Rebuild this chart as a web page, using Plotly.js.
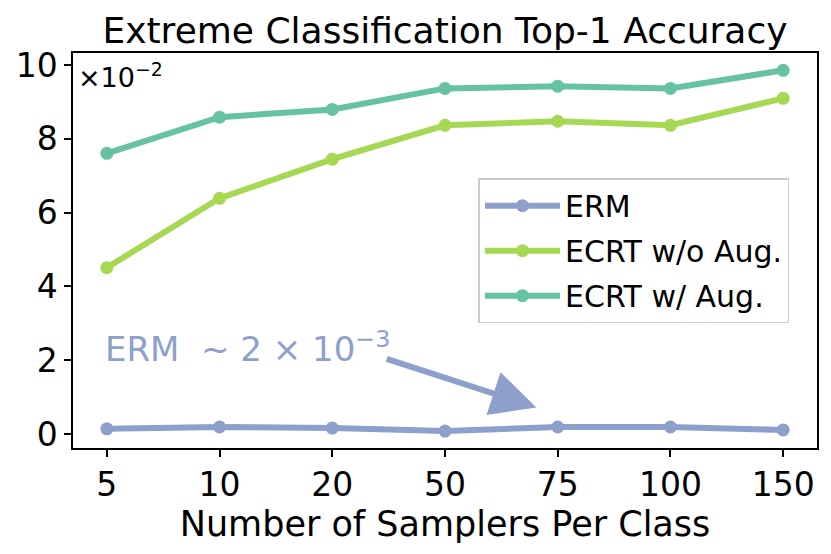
<!DOCTYPE html>
<html><head><meta charset="utf-8">
<script src="https://cdn.plot.ly/plotly-3.0.1.min.js"></script>
<style>body{margin:0;background:#fff}#c{width:831px;height:554px}</style>
</head><body><div id="c"></div>
<script>
const categories = ["5","10","20","50","75","100","150"];
const ermValues = [0.14, 0.19, 0.16, 0.08, 0.19, 0.19, 0.11];
const ecrtNoAugValues = [4.51, 6.39, 7.45, 8.37, 8.48, 8.37, 9.10];
const ecrtAugValues = [7.61, 8.59, 8.80, 9.37, 9.43, 9.37, 9.86];
const seriesNames = ["ERM", "ECRT w/o Aug.", "ECRT w/ Aug."];
const yTicks = [0, 2, 4, 6, 8, 10];

const F = "DejaVu Sans, sans-serif";
const colors = ["#8da0cb", "#a6d854", "#66c2a5"];
const vals = [ermValues, ecrtNoAugValues, ecrtAugValues];
const traces = vals.map((v, i) => ({
  x: categories, y: v, type: "scatter", mode: "lines+markers",
  name: seriesNames[i], legendgroup: "g" + i,
  line: {color: colors[i], width: 6},
  marker: {color: colors[i], size: 13}
}));

const layout = {
  width: 831, height: 554,
  margin: {l: 73, r: 14, t: 53, b: 106},
  paper_bgcolor: "#fff", plot_bgcolor: "#fff",
  font: {family: F, color: "#000"},
  title: {text: "Extreme Classification Top-1 Accuracy", font: {size: 36, family: F},
          xref: "paper", x: 0.5, xanchor: "center", y: 1 - 30/554, yanchor: "middle"},
  xaxis: {
    type: "category", range: [-0.30, 6.30],
    showline: true, mirror: true, linecolor: "#000", linewidth: 1.5,
    ticks: "outside", ticklen: 7, tickwidth: 1.5, tickcolor: "#000",
    tickfont: {size: 33, family: F}, showgrid: false, zeroline: false,
    title: {text: "Number of Samplers Per Class", font: {size: 35, family: F}, standoff: 2}
  },
  yaxis: {
    range: [-0.38, 10.33], tickvals: yTicks, ticktext: yTicks.map(String),
    showline: true, mirror: true, linecolor: "#000", linewidth: 1.5,
    ticks: "outside", ticklen: 7, tickwidth: 1.5, tickcolor: "#000",
    tickfont: {size: 33, family: F}, showgrid: false, zeroline: false
  },
  legend: {
    x: 0.545, y: 0.683, xanchor: "left", yanchor: "top",
    font: {size: 30, family: F}, bordercolor: "#cccccc", borderwidth: 1.5,
    bgcolor: "rgba(255,255,255,0.8)", traceorder: "grouped", tracegroupgap: 3,
    itemwidth: 75
  },
  annotations: [
    {xref: "paper", yref: "paper", x: 0.004, y: 0.993, xanchor: "left", yanchor: "top",
     text: "×10<sup>−2</sup>", showarrow: false, font: {size: 27, family: F}},
    {xref: "paper", yref: "paper", x: 0.04, y: 0.255, xanchor: "left", yanchor: "middle",
     text: "ERM  ~ 2 × 10<sup>−3</sup>", showarrow: false, font: {size: 34, family: F, color: "#8da0cb"}},
    {xref: "x", yref: "y", x: 3.81, y: 0.72, axref: "x", ayref: "y", ax: 2.47, ay: 2.05,
     text: "", showarrow: true, arrowhead: 2, arrowsize: 1.5, arrowwidth: 6, arrowcolor: "#8da0cb", standoff: 0}
  ]
};
Plotly.newPlot("c", traces, layout, {displayModeBar: false});
</script></body></html>
